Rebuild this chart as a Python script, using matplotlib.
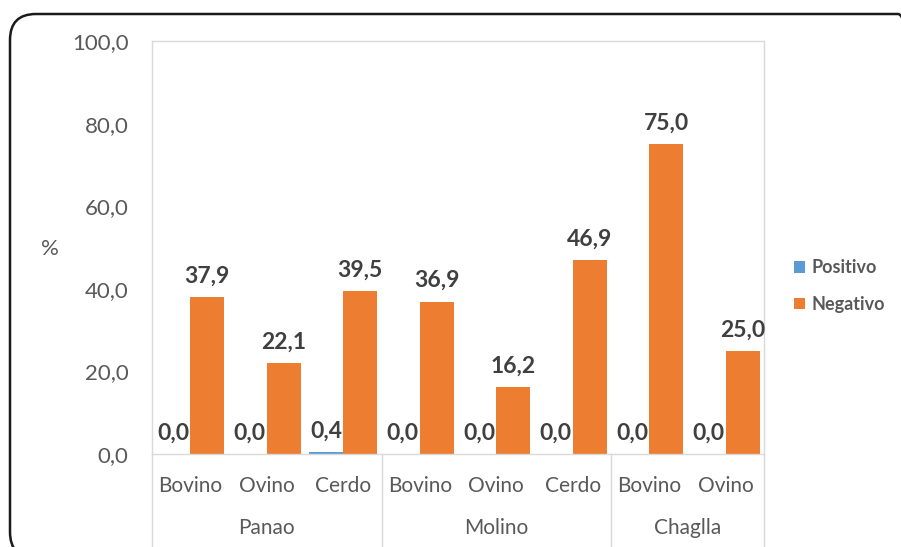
import matplotlib
matplotlib.use("Agg")
import matplotlib.pyplot as plt
from matplotlib.patches import FancyBboxPatch
from matplotlib.lines import Line2D
from matplotlib.transforms import IdentityTransform
import numpy as np

plt.rcParams['font.family'] = ['Lato', 'DejaVu Sans']

groups = ["Panao", "Molino", "Chaglla"]
group_sizes = [3, 3, 2]
categories = ["Bovino", "Ovino", "Cerdo", "Bovino", "Ovino", "Cerdo", "Bovino", "Ovino"]
positivo = [0.0, 0.0, 0.4, 0.0, 0.0, 0.0, 0.0, 0.0]
negativo = [37.9, 22.1, 39.5, 36.9, 16.2, 46.9, 75.0, 25.0]
series_names = ["Positivo", "Negativo"]
colors = ["#5B9BD5", "#ED7D31"]
yticks = [0, 20, 40, 60, 80, 100]

W, H = 901, 547
fig = plt.figure(figsize=(W / 100, H / 100), dpi=100)

# rounded outer border (pixel coordinates)
border = FancyBboxPatch((10, H - 558), 914, 558 - 14,
                        boxstyle="round,pad=0,rounding_size=26",
                        transform=IdentityTransform(), fill=False,
                        edgecolor="#1a1a1a", linewidth=1.8)
fig.patches.append(border)

left, right, top, bottom = 152, 764, 41, 454
ax = fig.add_axes([left / W, 1 - bottom / H, (right - left) / W, (bottom - top) / H])

n = len(categories)
x = np.arange(n)
bw = 0.445
b1 = ax.bar(x - bw / 2, positivo, bw, color=colors[0], label=series_names[0])
b2 = ax.bar(x + bw / 2, negativo, bw, color=colors[1], label=series_names[1])

def fmt(v):
    return f"{v:.1f}".replace(".", ",")

for bars, vals in ((b1, positivo), (b2, negativo)):
    for rect, v in zip(bars, vals):
        ax.annotate(fmt(v), (rect.get_x() + rect.get_width() / 2, v),
                    xytext=(0, 7.5), textcoords="offset points",
                    ha="center", va="bottom", fontsize=16.5, fontweight="bold",
                    color="#404040")

ax.set_xlim(-0.5, n - 0.5)
ax.set_ylim(0, 100)
ax.set_yticks(yticks)
ax.set_yticklabels([fmt(v) for v in yticks], fontsize=16, color="#595959")
ax.tick_params(axis="y", length=0, pad=17)
ax.set_xticks(x)
ax.set_xticklabels(categories, fontsize=15, color="#595959")
ax.tick_params(axis="x", length=0, pad=16)

for s in ax.spines.values():
    s.set_color("#d9d9d9")
    s.set_linewidth(1.0)

# group labels and separators
trans = ax.get_xaxis_transform()
start = 0
bounds = [-0.5]
for g, size in zip(groups, group_sizes):
    center = start + (size - 1) / 2
    ax.text(center, -(528 - bottom) / (bottom - top), g, transform=trans,
            ha="center", va="center", fontsize=15, color="#595959")
    start += size
    bounds.append(start - 0.5)
for b in bounds:
    ax.add_line(Line2D([b, b], [0, -(H - bottom + 5) / (bottom - top)], transform=trans,
                       color="#d9d9d9", linewidth=1.0, clip_on=False))

fig.text(50 / W, 1 - 249 / H, "%", fontsize=16, color="#595959", ha="center", va="center")

leg = fig.legend(handles=[b1, b2], labels=series_names, loc="upper left",
                 bbox_to_anchor=(778 / W, 1 - 243 / H), frameon=False,
                 prop={"size": 13, "weight": "bold"}, handlelength=0.6,
                 handleheight=0.6, handletextpad=0.35, labelspacing=1.1)
for t in leg.get_texts():
    t.set_color("#595959")

fig.savefig("out.png", dpi=100)
